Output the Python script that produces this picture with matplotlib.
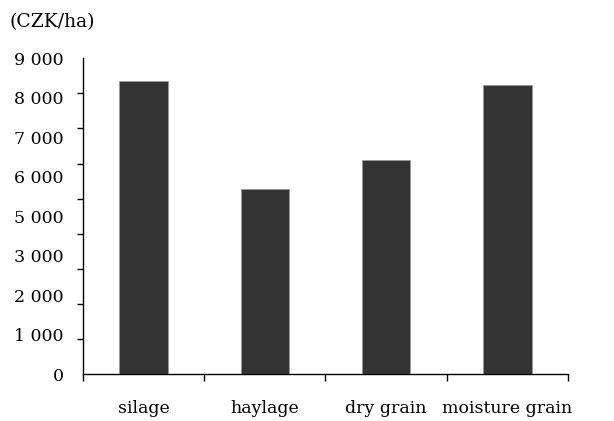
import matplotlib.pyplot as plt
import numpy as np

# data
categories = ['silage', 'haylage', 'dry grain', 'moisture grain']
values = [8360, 5260, 6110, 8240]
# y labels as printed in the source figure (note: no "4 000")
ytick_labels = ['0', '1 000', '2 000', '3 000', '5 000', '6 000', '7 000', '8 000', '9 000']

plt.rcParams['font.family'] = ['DejaVu Serif']

fig = plt.figure(figsize=(6.14, 4.21), dpi=100)
ax = fig.add_axes([0.135, 0.1116, 0.79, 0.75])

x = np.arange(len(categories))
ax.bar(x, values, width=0.4, color='#333333', edgecolor='#999999', linewidth=0.6, zorder=3)

ax.set_xlim(-0.5, len(categories) - 0.5)
ax.set_ylim(0, 9000)

# tick marks every 1000, labels spread evenly (as in the original)
ax.set_yticks(np.arange(0, 9001, 1000), minor=True)
ax.set_yticks(np.linspace(0, 9000, len(ytick_labels)))
ax.set_yticklabels(ytick_labels, fontsize=12.5)
ax.tick_params(axis='y', which='major', length=0, pad=14)
ax.tick_params(axis='y', which='minor', length=4, width=1, direction='out')

# x: tick marks between categories, labels at the centres
ax.set_xticks(np.arange(-0.5, len(categories), 1.0), minor=True)
ax.set_xticks(x)
ax.set_xticklabels(categories, fontsize=12.5)
ax.tick_params(axis='x', which='major', length=0, pad=19)
ax.tick_params(axis='x', which='minor', length=5, width=1, direction='out')

for s in ['top', 'right']:
    ax.spines[s].set_visible(False)
for s in ['left', 'bottom']:
    ax.spines[s].set_linewidth(1)

fig.text(0.015, 0.948, '(CZK/ha)', fontsize=13.5, va='center', ha='left')

fig.savefig('out.png', dpi=100)
